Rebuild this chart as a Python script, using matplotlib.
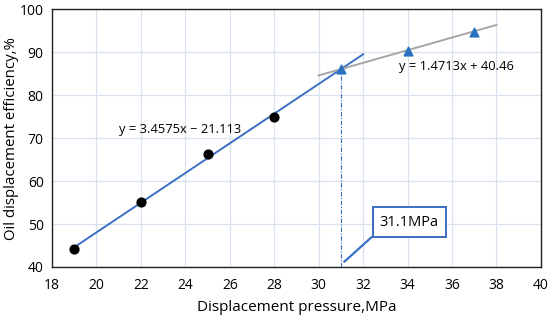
import matplotlib
matplotlib.use("Agg")
import matplotlib.pyplot as plt
import numpy as np

plt.rcParams['font.family'] = ['Open Sans', 'DejaVu Sans']

low_x = [19, 22, 25, 28]
low_y = [44.2, 55.2, 66.3, 75.0]
high_x = [31, 34, 37]
high_y = [86.0, 90.4, 94.8]

fit1 = (3.4575, -21.113)
fit1_range = [19, 32]
fit2 = (1.4713, 40.46)
fit2_range = [30, 38]
cross_x = 31
cross_label = "31.1MPa"

fig = plt.figure(figsize=(5.5, 3.22), dpi=100)
ax = fig.add_axes([0.0945, 0.171, 0.889, 0.800])

ax.set_xlim(18, 40)
ax.set_ylim(40, 100)
ax.set_xticks(np.arange(18, 41, 2))
ax.set_yticks(np.arange(40, 101, 10))
ax.grid(True, color='#d9e1ee', linewidth=0.9)
ax.set_axisbelow(True)
for s in ax.spines.values():
    s.set_color('#222222')
    s.set_linewidth(1.0)
ax.tick_params(length=0, labelsize=10, pad=8)
ax.tick_params(axis='y', pad=6)

blue = '#3a6fc4'
x1 = np.array(fit1_range)
ax.plot(x1, fit1[0] * x1 + fit1[1], color=blue, lw=1.4, zorder=2)
x2 = np.array(fit2_range)
ax.plot(x2, fit2[0] * x2 + fit2[1], color='#a6a6a6', lw=1.4, zorder=2)

ax.scatter(low_x, low_y, s=40, color='black', zorder=3)
ax.scatter(high_x, high_y, s=40, marker='^', color='#2a72c0', zorder=3)

ax.plot([cross_x, cross_x], [40, high_y[0]], color=blue, lw=0.8,
        dashes=(4, 1.5, 1, 1.5), zorder=2)

ax.text(21, 71.9, "y = 3.4575x \u2212 21.113", fontsize=9.3, va='center', ha='left')
ax.text(33.6, 86.6, "y = 1.4713x + 40.46", fontsize=9.3, va='center', ha='left')

ax.annotate(cross_label, xy=(31.15, 41.2), xytext=(32.75, 50.4),
            fontsize=10.5, va='center', ha='left',
            bbox=dict(boxstyle='square,pad=0.5', fc='white', ec=blue, lw=1.4),
            arrowprops=dict(arrowstyle='-', color=blue, lw=1.6,
                            shrinkA=0, shrinkB=0, relpos=(0, 0)))

ax.set_xlabel("Displacement pressure,MPa", fontsize=11, labelpad=5)
ax.set_ylabel("Oil displacement efficiency,%", fontsize=10.8)
ax.yaxis.label.set(ha='center', va='center', rotation_mode='default')
ax.yaxis.set_label_coords(-0.083, 0.5)

fig.savefig("out.png", dpi=100)
